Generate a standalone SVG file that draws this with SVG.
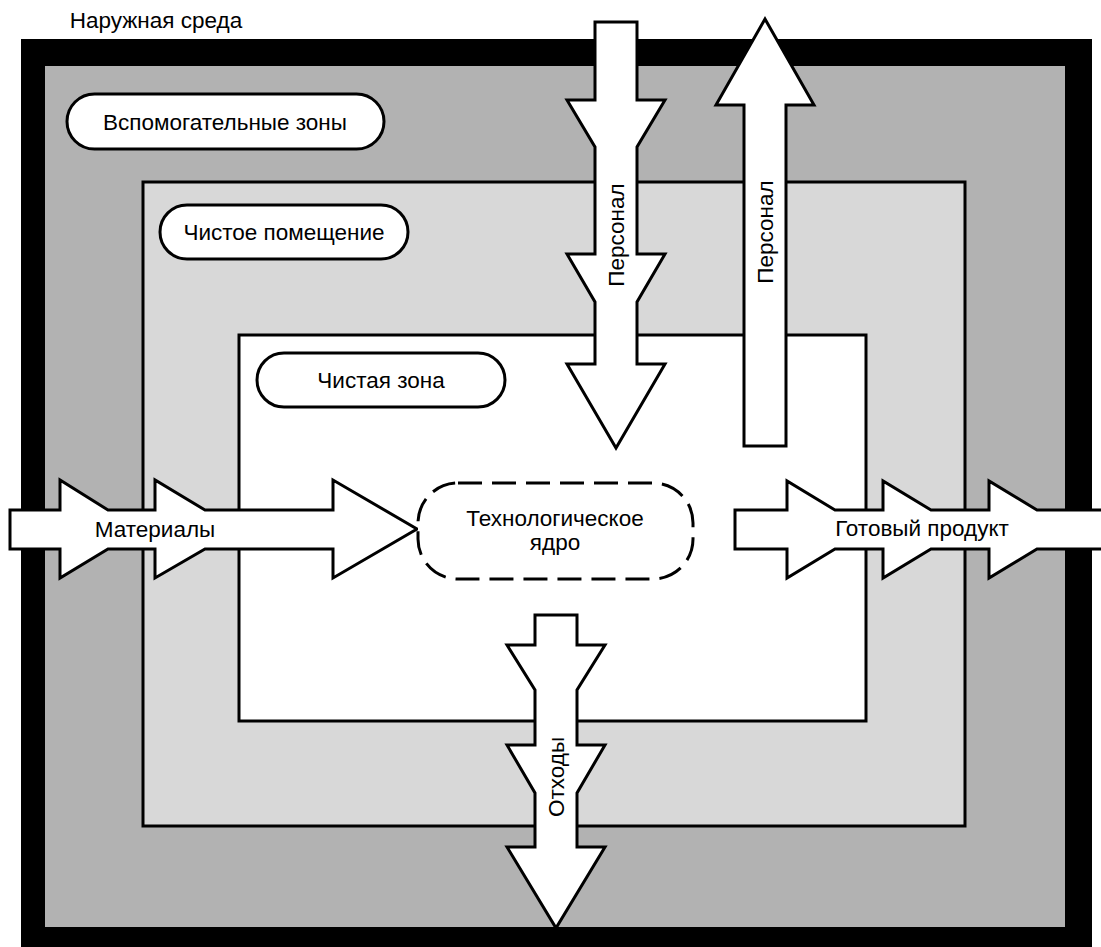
<svg xmlns="http://www.w3.org/2000/svg" width="1101" height="947" viewBox="0 0 1101 947">
<style>
text{font-family:"Liberation Sans",Arial,sans-serif;font-size:22.5px;fill:#000;text-anchor:middle}
.pill{fill:#fff;stroke:#000;stroke-width:3}
.arrow{fill:#fff;stroke:#000;stroke-width:3;stroke-linejoin:miter}
.zone{stroke:#000;stroke-width:3}
</style>
<rect width="1101" height="947" fill="#fff"/>
<g id="outer">
<rect x="21" y="39" width="1071" height="910" fill="#000"/>
<rect x="45" y="66" width="1020" height="861" fill="#b2b2b2"/>
<text x="156" y="28">Наружная среда</text>
</g>
<g id="room">
<rect class="zone" x="143" y="182" width="822" height="644" fill="#d8d8d8"/>
</g>
<g id="cleanzone">
<rect class="zone" x="239" y="335" width="627" height="386" fill="#fff"/>
</g>
<g id="connectors">
<polygon class="arrow" points="595,22 637,22 637,100 665,100 637,147 637,254 665,254 637,302 637,364 665,364 616,448 567,364 595,364 595,302 567,254 595,254 595,147 567,100 595,100"/>
<text transform="translate(624,235) rotate(-90)">Персонал</text>
<polygon class="arrow" points="765,19 814,105 786,105 786,446 744,446 744,105 716,105"/>
<text transform="translate(773,232) rotate(-90)">Персонал</text>
<polygon class="arrow" points="10,510 60,510 60,480 108,510 155,510 155,480 205,510 333,510 333,480 417,529 333,578 333,549 205,549 155,578 155,549 108,549 60,578 60,549 10,549"/>
<text x="155" y="537">Материалы</text>
<polygon class="arrow" points="1115,510 1037,510 989,481 989,510 931,510 883,481 883,510 835,510 787,481 787,510 735,510 735,549 787,549 787,578 835,549 883,549 883,578 931,549 989,549 989,578 1037,549 1115,549"/>
<text x="922" y="536">Готовый продукт</text>
<polygon class="arrow" points="535,615 577,615 577,645 605,645 577,690 577,745 605,745 577,793 577,847 605,847 556,928 507,847 535,847 535,793 507,745 535,745 535,690 507,645 535,645"/>
<text transform="translate(564,777) rotate(-90)">Отходы</text>
</g>
<g id="aux">
<rect class="pill" x="67" y="94" width="317" height="55" rx="27.5"/>
<text x="225" y="130">Вспомогательные зоны</text>
</g>
<g id="cleanroom-label">
<rect class="pill" x="160" y="205" width="248" height="54" rx="27"/>
<text x="284" y="240">Чистое помещение</text>
</g>
<g id="cleanzone-label">
<rect class="pill" x="257" y="353" width="248" height="54" rx="27"/>
<text x="381" y="388">Чистая зона</text>
</g>
<g id="core">
<rect x="418" y="483" width="275" height="96" rx="40" fill="#fff" stroke="#000" stroke-width="3" stroke-dasharray="24,10"/>
<text x="555" y="526">Технологическое</text>
<text x="555" y="550">ядро</text>
</g>
</svg>
